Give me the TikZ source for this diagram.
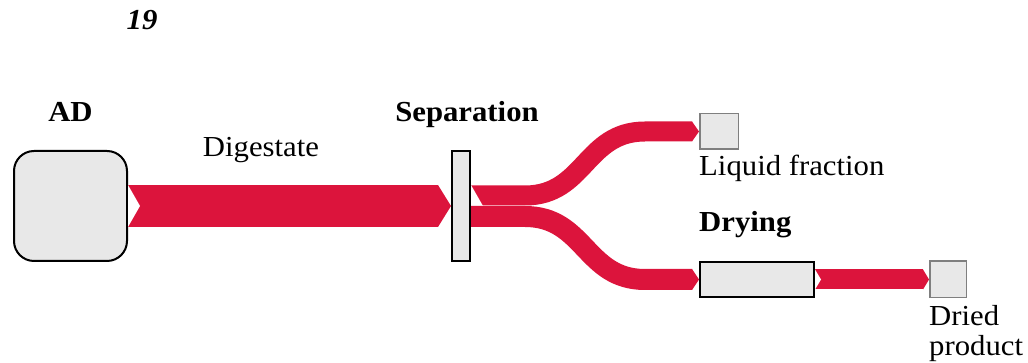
\documentclass[tikz,border=0pt]{standalone}
\usepackage{fontspec}
\setmainfont{Liberation Serif}[FakeStretch=1.06]
\usetikzlibrary{arrows.meta,positioning,calc}
\definecolor{flowred}{HTML}{DC143C}
\definecolor{boxgray}{HTML}{E8E8E8}
\definecolor{edgegray}{HTML}{7F7F7F}

\begin{document}
\begin{tikzpicture}[x=1pt,y=1pt,
    unit/.style={draw,line width=2pt,fill=boxgray,inner sep=0pt},
    sink/.style={draw=edgegray,line width=1.5pt,fill=boxgray,inner sep=0pt},
    lbl/.style={font=\fontsize{29}{30}\selectfont,inner sep=0pt},
    head/.style={font=\fontsize{29}{30}\selectfont\bfseries,inner sep=0pt},
    flow/.style={draw=flowred,line width=#1},
    notch/.style={fill=white}]
    \useasboundingbox (0,0) rectangle (1028,363);
    \node[unit,rounded corners=20pt,minimum width=113pt,minimum height=110pt] (ad) at (70.5,157) {};
    \node[unit,minimum width=18pt,minimum height=110pt] (sep) at (461,157) {};
    \node[sink,minimum width=38.5pt,minimum height=35.5pt] (liq) at (719,231.5) {};
    \node[unit,minimum width=114pt,minimum height=35pt] (dry) at (757,83.5) {};
    \node[sink,minimum width=36.5pt,minimum height=36.5pt] (prod) at (948,83.5) {};
    % flows
    \draw[flow=42pt,-{Triangle[length=13pt,width=42pt,line width=0pt]}] (ad.east) -- (sep.west);
    \fill[notch] ($(ad.east)+(0,21)$) -- ($(ad.east)+(12,0)$) -- ($(ad.east)+(0,-21)$) -- cycle;
    \draw[flow=20pt,-{Triangle[length=7pt,width=20pt,line width=0pt]}] ($(sep.east)+(0,10.5)$) -- ++(54,0)
      .. controls +(60,0) and +(-60,0) .. ($(liq.west)+(-54,0)$) -- (liq.west);
    \fill[notch] ($(sep.east)+(0,21)$) -- ($(sep.east)+(12,0)$) -- ($(sep.east)+(0,-21)$) -- cycle;
    \draw[flow=21pt,-{Triangle[length=7pt,width=21pt,line width=0pt]}] ($(sep.east)+(0,-10.5)$) -- ++(54,0)
      .. controls +(60,0) and +(-60,0) .. ($(dry.west)+(-54,0)$) -- (dry.west);
    \draw[flow=20pt,-{Triangle[length=6pt,width=20pt,line width=0pt]}] (dry.east) -- (prod.west);
    \fill[notch] ($(dry.east)+(0,10)$) -- ($(dry.east)+(6,0)$) -- ($(dry.east)+(0,-10)$) -- cycle;
    % labels
    \node[font=\fontsize{29}{30}\selectfont\bfseries\itshape,inner sep=0pt,anchor=base] (fignum) at (142,333) {19};
    \node[head,above=28pt of ad,anchor=base] (adlbl) {AD};
    \node[head,above=28pt of sep,anchor=base,xshift=6pt] (seplbl) {Separation};
    \node[lbl,anchor=base] (digestlbl) at (261,206) {Digestate};
    \node[lbl,below=26pt of liq.south west,anchor=base west] (liqlbl) {Liquid fraction};
    \node[head,above=29pt of dry.north west,anchor=base west] (drylbl) {Drying};
    \node[lbl,align=left,below=7pt of prod.south west,anchor=north west] (prodlbl) {Dried\\product};
\end{tikzpicture}
\end{document}
